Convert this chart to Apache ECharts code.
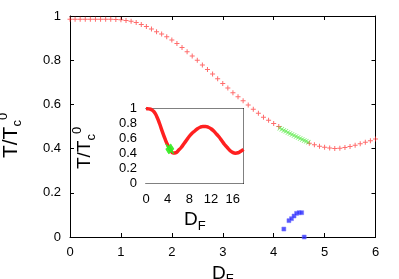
<!DOCTYPE html>
<html><head><meta charset="utf-8">
<script src="https://cdn.jsdelivr.net/npm/echarts@6/dist/echarts.min.js"></script>
<style>html,body{margin:0;padding:0;background:#fff}#c{width:399px;height:279px}</style>
</head><body><div id="c"></div>
<script>
// Main plot data
var redX = [0,0.1,0.2,0.3,0.4,0.5,0.6,0.7,0.8,0.9,1.0,1.1,1.2,1.3,1.4,1.5,1.6,1.7,1.8,1.9,2.0,2.1,2.2,2.3,2.4,2.5,2.6,2.7,2.8,2.9,3.0,3.1,3.2,3.3,3.4,3.5,3.6,3.7,3.8,3.9,4.0,4.1,4.7,4.8,4.9,5.0,5.1,5.2,5.3,5.4,5.5,5.6,5.7,5.8,5.9,6.0];
var redY = [0.985,0.985,0.985,0.985,0.985,0.985,0.985,0.985,0.985,0.984,0.983,0.980,0.976,0.971,0.962,0.952,0.941,0.929,0.918,0.906,0.891,0.876,0.858,0.838,0.819,0.800,0.778,0.758,0.737,0.716,0.695,0.674,0.653,0.635,0.617,0.597,0.578,0.560,0.542,0.528,0.514,0.500,0.424,0.417,0.411,0.406,0.403,0.401,0.402,0.405,0.409,0.415,0.422,0.429,0.436,0.443];
var greenX = [4.12,4.16,4.20,4.24,4.28,4.32,4.36,4.40,4.44,4.48,4.52,4.56,4.60,4.64,4.68];
var greenY = [0.492,0.487,0.482,0.478,0.473,0.468,0.464,0.459,0.455,0.450,0.446,0.441,0.437,0.433,0.429];
var blueX = [4.2,4.3,4.35,4.4,4.45,4.5,4.55,4.6];
var blueY = [0.036,0.074,0.083,0.095,0.107,0.110,0.110,0.0];
// Inset data
var insetX = [0,0.5,1,1.5,2,2.5,3,3.5,4,4.5,5,5.5,6,6.5,7,7.5,8,8.5,9,9.5,10,10.5,11,11.5,12,12.5,13,13.5,14,14.5,15,15.5,16,16.5,17,17.5,18];
var insetY = [1.0,0.995,0.985,0.955,0.891,0.800,0.695,0.597,0.514,0.450,0.406,0.409,0.443,0.48,0.53,0.58,0.63,0.67,0.70,0.73,0.75,0.76,0.76,0.75,0.73,0.70,0.66,0.62,0.57,0.52,0.48,0.44,0.415,0.405,0.41,0.43,0.455];
// Ticks
var mainXTicks = [0,1,2,3,4,5,6];
var mainYTicks = [0,0.2,0.4,0.6,0.8,1];
var insetXTicks = [0,4,8,12,16];
var insetYTicks = [0,0.2,0.4,0.6,0.8,1];

function zip(a,b){return a.map(function(v,i){return [v,b[i]];});}
var plus = 'path://M4,0h2v4h4v2h-4v4h-2v-4h-4v-2h4z';
var cross = 'path://M1,0L5,4L9,0L10,1L6,5L10,9L9,10L5,6L1,10L0,9L4,5L0,1z';
var font = 'Liberation Sans, Arial, sans-serif';
function rich(big){
  return {
    a:{fontFamily:font,fontSize:big,color:'#000'},
    s:{fontFamily:font,fontSize:13,color:'#000',padding:[12,0,0,0]},
    p:{fontFamily:font,fontSize:13,color:'#000',padding:[0,0,15,0]}
  };
}
function ax(grid,min,max,interval,pos,show,name,gap,big,pad){
  return {type:'value',gridIndex:grid,min:min,max:max,interval:interval,position:pos,
    axisLine:{show:true,onZero:false,lineStyle:{color:'#000',width:1}},
    axisTick:{show:true,inside:true,length:4,lineStyle:{color:'#000'}},
    axisLabel:{show:show,margin:9,fontFamily:font,fontSize:13,color:'#000',
      formatter:function(v){return String(+(+v).toFixed(1));}},
    splitLine:{show:false},
    name:name||'',nameLocation:'middle',nameGap:gap||0,
    nameTextStyle:{rich:rich(big||19),padding:pad||0}};
}
var chart = echarts.init(document.getElementById('c'),null,{renderer:'canvas'});
chart.setOption({
  animation:false,
  backgroundColor:'#fff',
  grid:[
    {left:70,top:16,width:305.5,height:221,outerBoundsMode:'none',containLabel:false},
    {left:146,top:108.5,width:97.5,height:75,backgroundColor:'#fff',show:true,borderWidth:0,z:5,outerBoundsMode:'none',containLabel:false}
  ],
  xAxis:[
    ax(0,0,6,1,'bottom',true,'{a|D}{s|F}',23),
    ax(0,0,6,1,'top',false),
    ax(1,0,18,4,'bottom',true,'{a|D}{s|F}',24),
    ax(1,0,18,4,'top',false)
  ],
  yAxis:[
    ax(0,0,1,0.2,'left',true,'{a|T/T}{s|c}{p|0}',45,21,[0,18,0,0]),
    ax(0,0,1,0.2,'right',false),
    ax(1,0,1,0.2,'left',true,'{a|T/T}{s|c}{p|0}',47,19,[0,4,0,0]),
    ax(1,0,1,0.2,'right',false)
  ],
  series:[
    {type:'scatter',xAxisIndex:0,yAxisIndex:0,data:zip(redX,redY),symbol:plus,symbolSize:5,
      itemStyle:{color:'rgba(255,40,40,0.85)'},z:2},
    {type:'scatter',xAxisIndex:0,yAxisIndex:0,data:zip(greenX,greenY),symbol:cross,symbolSize:5,
      itemStyle:{color:'rgba(60,230,40,0.85)'},z:3},
    {type:'scatter',xAxisIndex:0,yAxisIndex:0,data:zip(blueX,blueY),symbol:'rect',symbolSize:4,
      itemStyle:{color:'#2a2aff',borderColor:'rgba(120,120,255,0.6)',borderWidth:1},z:3},
    {type:'line',xAxisIndex:2,yAxisIndex:2,data:zip(insetX,insetY),smooth:true,symbol:'none',
      lineStyle:{color:'#ff2020',width:3.5},z:6},
    {type:'scatter',xAxisIndex:2,yAxisIndex:2,data:zip(greenX,greenY),symbol:cross,symbolSize:6,
      itemStyle:{color:'#33ee22'},z:7}
  ]
});
</script></body></html>
